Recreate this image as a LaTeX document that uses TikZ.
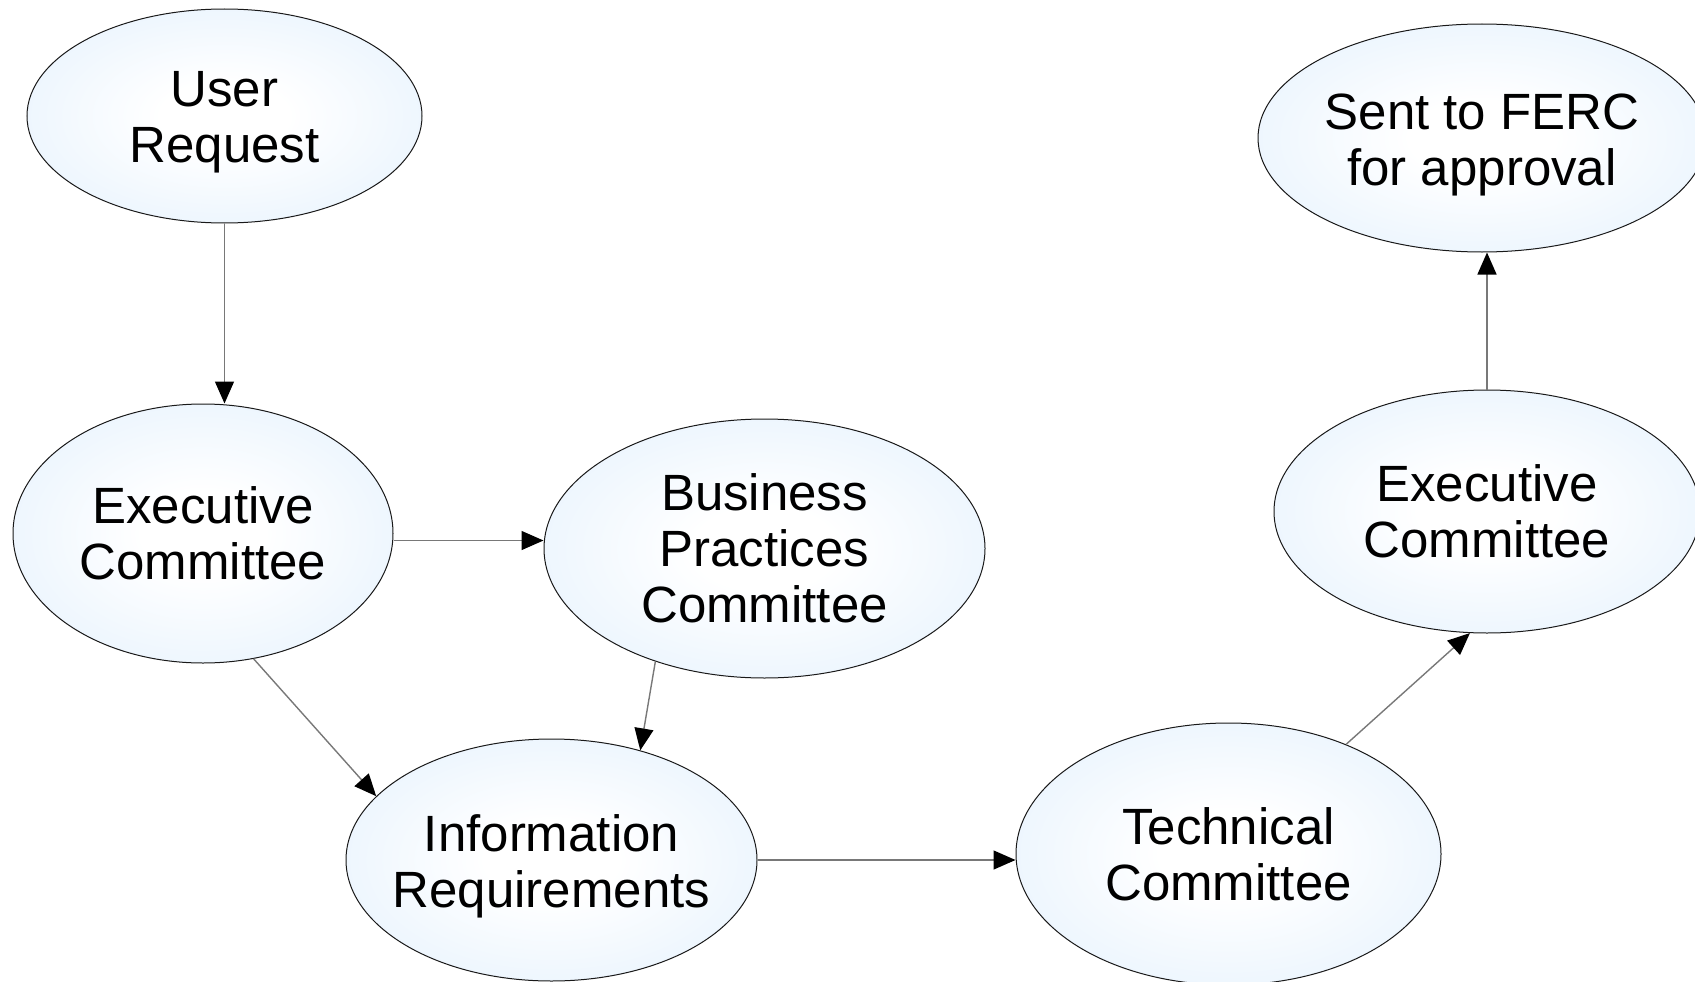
\documentclass[tikz,border=0pt]{standalone}
\usepackage{fontspec}
\setmainfont{Liberation Sans}
\usetikzlibrary{shapes.geometric,arrows.meta}
\definecolor{edgeblue}{RGB}{220,237,253}
\definecolor{linegray}{RGB}{120,120,120}
\pgfdeclareradialshading{ellshade}{\pgfpoint{0bp}{0bp}}{color(0bp)=(white); color(8bp)=(white); color(43bp)=(edgeblue); color(75bp)=(edgeblue)}
\begin{document}
\begin{tikzpicture}[x=1pt,y=-1pt,
  ell/.style={ellipse, draw=black!90, line width=1pt, shading=ellshade, inner sep=0pt},
  txt/.style={align=center, inner sep=0pt, font=\fontsize{51}{56}\selectfont},
  arr/.style={draw=linegray, line width=1.4pt, -{Triangle[length=22pt,width=19pt,black]}}]
\useasboundingbox (0,0) rectangle (1695,982);
\node[ell, minimum width=395pt, minimum height=214pt] (ur) at (224.5,116) {};
\node[ell, minimum width=380pt, minimum height=259pt] (exl) at (203,533.5) {};
\node[ell, minimum width=441pt, minimum height=259pt] (bpc) at (764.5,548.5) {};
\node[ell, minimum width=411pt, minimum height=242pt] (ir) at (551.5,860) {};
\node[ell, minimum width=425pt, minimum height=262pt] (tc) at (1228.5,854) {};
\node[ell, minimum width=426pt, minimum height=243pt] (exr) at (1487,511.5) {};
\node[ell, minimum width=448pt, minimum height=228pt] (ferc) at (1482,138) {};

\node[txt] (urt) at ([yshift=-6.5pt]ur.center) {User\\Request};
\node[txt] (exlt) at (exl.center) {Executive\\Committee};
\node[txt] (bpct) at (bpc.center) {Business\\Practices\\Committee};
\node[txt] (irt) at ([yshift=-6.5pt]ir.center) {Information\\Requirements};
\node[txt] (tct) at (tc.center) {Technical\\Committee};
\node[txt] (exrt) at (exr.center) {Executive\\Committee};
\node[txt] (ferct) at ([yshift=-6.5pt]ferc.center) {Sent to FERC\\for approval};

\draw[arr] (ur.south) -- (ur.south |- exl.north);
\draw[arr] ([yshift=-7pt]exl.east) -- ([yshift=-7pt]exl.east -| bpc.west);
\draw[arr] (exl.-68) -- (ir.160.5);
\draw[arr] (bpc.-134.7) -- (ir.51.6);
\draw[arr] (ir.east) -- (ir.east -| tc.west);
\draw[arr] (tc.43.7) -- (exr.-98);
\draw[arr] (exr.north) -- (exr.north |- ferc.south);
\end{tikzpicture}
\end{document}
